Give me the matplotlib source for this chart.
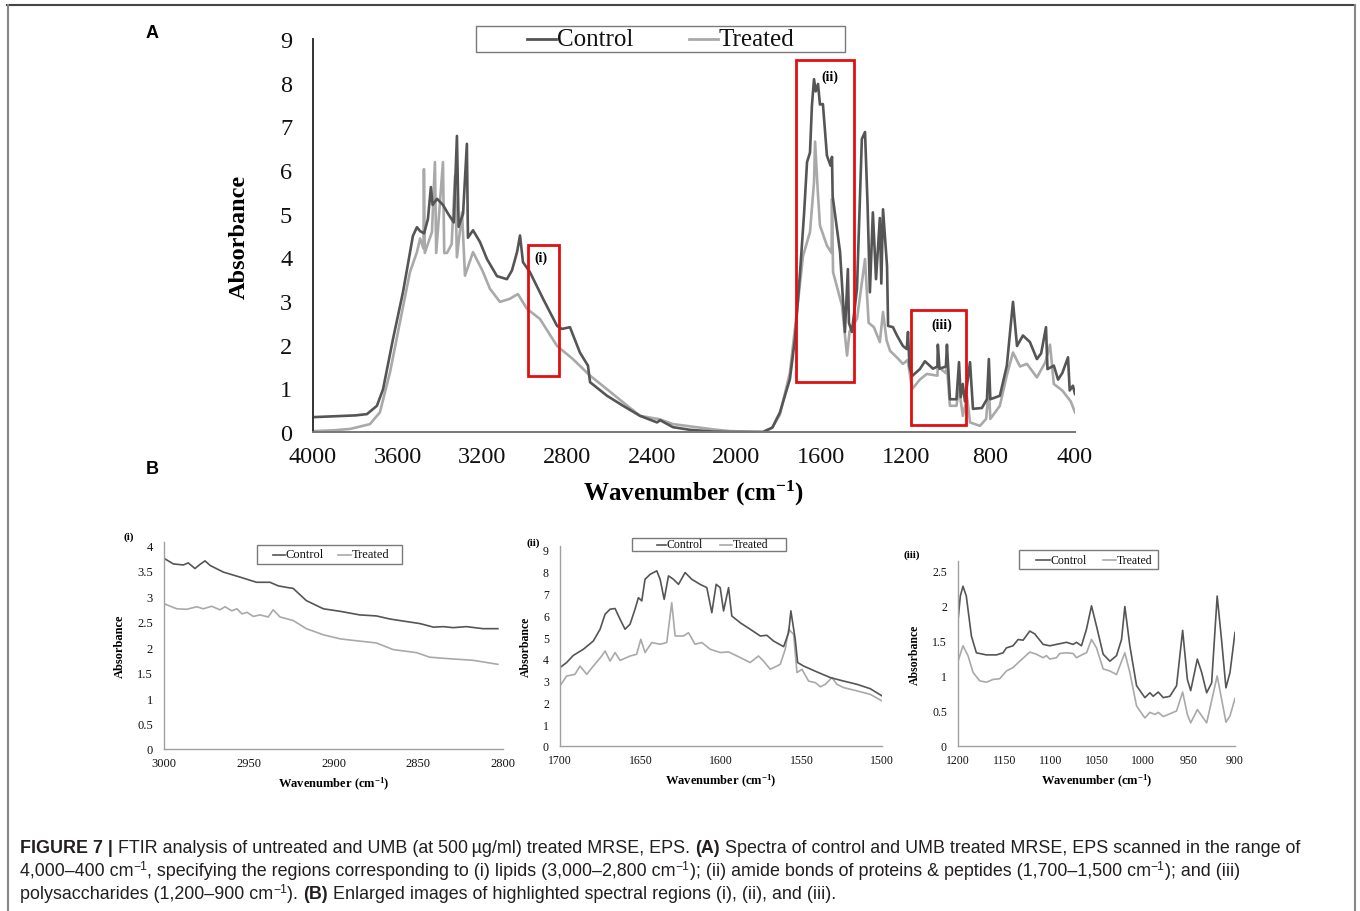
import matplotlib
matplotlib.use("Agg")
import matplotlib.pyplot as plt
from matplotlib.patches import Rectangle
from matplotlib.lines import Line2D
from matplotlib.ticker import FuncFormatter, MultipleLocator
from matplotlib import font_manager

W, H = 1360, 912
plt.rcParams['font.family'] = ['Liberation Serif', 'DejaVu Serif']
plt.rcParams['mathtext.fontset'] = 'custom'
plt.rcParams['mathtext.rm'] = 'Liberation Serif'
plt.rcParams['mathtext.bf'] = 'Liberation Serif:bold'
plt.rcParams['mathtext.it'] = 'Liberation Serif:italic'

CTRL = '#555555'
TRT = '#a9a9a9'
RED = '#e01010'

# ---------------- Panel A : full spectra ----------------
a_ctrl_x = [4000, 3900, 3800, 3745, 3698, 3669, 3622, 3575, 3528, 3509, 3494, 3475, 3457, 3443,
            3435, 3414, 3386, 3362, 3335, 3320, 3312, 3291, 3273, 3268, 3244, 3211, 3178, 3131,
            3084, 3060, 3036, 3022, 3008, 2975, 2913, 2847, 2824, 2786, 2739, 2701, 2691, 2611,
            2535, 2455, 2375, 2360, 2299, 2219, 2110, 2030, 1874, 1830, 1794, 1747, 1723, 1699,
            1680, 1666, 1652, 1643, 1633, 1625, 1614, 1605, 1591, 1572, 1555, 1548, 1545, 1510,
            1487, 1473, 1468, 1454, 1430, 1407, 1392, 1380, 1369, 1355, 1340, 1322, 1315, 1307,
            1288, 1283, 1260, 1241, 1213, 1195, 1189, 1182, 1170, 1133, 1109, 1071, 1050, 1048,
            1040, 1010, 1005, 991, 960, 948, 940, 930, 920, 896, 882, 840, 816, 807, 800, 755,
            722, 693, 674, 646, 613, 580, 560, 537, 530, 500, 480, 460, 433, 425, 410, 400]
a_ctrl_y = [0.34, 0.36, 0.38, 0.41, 0.60, 0.98, 2.13, 3.20, 4.49, 4.69, 4.60, 4.55, 4.88, 5.61,
            5.20, 5.34, 5.20, 5.00, 4.80, 6.78, 4.70, 5.00, 6.60, 4.45, 4.62, 4.35, 3.96, 3.57,
            3.50, 3.70, 4.12, 4.50, 3.89, 3.66, 3.05, 2.43, 2.36, 2.40, 1.82, 1.52, 1.14, 0.83,
            0.60, 0.37, 0.22, 0.27, 0.11, 0.05, 0.01, 0.00, 0.00, 0.10, 0.45, 1.21, 2.13, 3.66,
            5.00, 6.18, 6.40, 7.47, 8.08, 7.80, 7.97, 7.50, 7.51, 6.33, 6.10, 6.30, 5.40, 4.12,
            2.29, 3.73, 2.50, 2.29, 3.28, 6.71, 6.87, 5.20, 3.20, 5.03, 3.50, 4.90, 3.40, 5.10,
            3.80, 2.43, 2.40, 2.21, 1.97, 1.90, 2.29, 1.50, 1.28, 1.44, 1.62, 1.45, 1.50, 2.00,
            1.45, 1.50, 2.00, 0.75, 0.75, 1.60, 0.80, 1.10, 0.70, 1.60, 0.53, 0.55, 0.75, 1.67,
            0.75, 0.83, 1.52, 2.98, 1.97, 2.21, 2.06, 1.67, 1.80, 2.40, 1.44, 1.52, 1.20, 1.35,
            1.71, 0.95, 1.06, 0.87]

a_trt_x = [4000, 3900, 3825, 3731, 3684, 3636, 3589, 3542, 3509, 3494, 3478, 3476, 3472, 3438,
           3424, 3418, 3386, 3380, 3367, 3345, 3329, 3320, 3296, 3282, 3244, 3200, 3164, 3117,
           3070, 3032, 2989, 2928, 2847, 2772, 2691, 2611, 2535, 2455, 2361, 2299, 2219, 2110,
           2030, 1874, 1830, 1794, 1747, 1714, 1685, 1652, 1633, 1628, 1615, 1605, 1572, 1550,
           1548, 1543, 1501, 1477, 1465, 1430, 1392, 1375, 1350, 1322, 1307, 1290, 1274, 1240,
           1213, 1190, 1170, 1133, 1100, 1050, 1048, 1010, 1005, 991, 960, 948, 930, 910, 896,
           849, 820, 807, 800, 755, 722, 693, 660, 627, 580, 540, 518, 500, 460, 420, 400]
a_trt_y = [0.02, 0.04, 0.07, 0.18, 0.45, 1.37, 2.52, 3.66, 4.12, 4.43, 4.20, 6.02, 4.10, 4.58,
           6.18, 4.10, 6.18, 4.10, 4.10, 4.30, 5.87, 4.00, 5.03, 3.58, 4.12, 3.70, 3.28, 2.98,
           3.05, 3.16, 2.82, 2.59, 1.97, 1.67, 1.29, 0.98, 0.68, 0.37, 0.29, 0.18, 0.13, 0.06,
           0.02, 0.00, 0.10, 0.40, 1.36, 2.75, 4.03, 4.58, 5.72, 6.65, 5.50, 4.73, 4.27, 4.10,
           5.34, 3.66, 2.90, 1.75, 2.30, 2.59, 3.96, 2.50, 2.40, 2.06, 2.75, 2.10, 1.86, 1.70,
           1.56, 1.65, 0.98, 1.20, 1.33, 1.29, 1.50, 1.35, 1.50, 0.60, 0.60, 1.00, 0.37, 0.80,
           0.22, 0.14, 0.30, 1.00, 0.30, 0.60, 1.30, 1.82, 1.50, 1.56, 1.25, 1.60, 2.00, 1.10,
           0.95, 0.70, 0.45]

a_xticks = [4000, 3600, 3200, 2800, 2400, 2000, 1600, 1200, 800, 400]
a_yticks = [0, 1, 2, 3, 4, 5, 6, 7, 8, 9]

# highlighted regions (wavenumber range, absorbance range) and their labels
region_x = [(2984, 2838), (1718, 1444), (1175, 915)]
region_y = [(1.28, 4.28), (1.14, 8.52), (0.16, 2.79)]
region_labels = ['(i)', '(ii)', '(iii)']
region_label_xy = [(2923, 4.0), (1558, 8.15), (1029, 2.47)]

# ---------------- Panel B (i) lipids ----------------
b1_ctrl_x = [3000, 2994.5, 2988.6, 2985.7, 2981.7, 2978.8, 2975.8, 2972.8, 2965, 2955, 2945.4,
             2937.5, 2932.6, 2927.7, 2923.8, 2916, 2906, 2896, 2884.5, 2874.7, 2866.8, 2857,
             2849, 2841, 2835, 2829.5, 2821.6, 2811.8, 2803]
b1_ctrl_y = [3.74, 3.63, 3.61, 3.65, 3.54, 3.62, 3.69, 3.60, 3.47, 3.37, 3.27, 3.27, 3.20, 3.17,
             3.15, 2.91, 2.75, 2.70, 2.63, 2.61, 2.55, 2.50, 2.46, 2.39, 2.40, 2.38, 2.40, 2.36,
             2.36]
b1_trt_x = [3000, 2992.5, 2986.6, 2980.7, 2976.8, 2971.9, 2967, 2964, 2960, 2957, 2954, 2951,
            2947.3, 2943.4, 2938.5, 2935.6, 2931.6, 2923.8, 2916, 2906, 2896, 2888.4, 2874.7,
            2864.8, 2851, 2843.2, 2831.4, 2817.7, 2803]
b1_trt_y = [2.85, 2.75, 2.74, 2.79, 2.75, 2.80, 2.73, 2.79, 2.71, 2.75, 2.65, 2.68, 2.60, 2.63,
            2.59, 2.73, 2.59, 2.52, 2.36, 2.24, 2.16, 2.13, 2.08, 1.95, 1.89, 1.80, 1.77, 1.74,
            1.66]

# ---------------- Panel B (ii) amide ----------------
b2_ctrl_x = [1700, 1695.9, 1691.7, 1685.5, 1679.3, 1675.1, 1672, 1668.9, 1665.8, 1662.7, 1659.6,
             1656.5, 1653.4, 1651.3, 1649.2, 1647.2, 1644, 1639.9, 1637.8, 1635.3, 1632.6, 1629.5,
             1626.4, 1622.3, 1618.1, 1613, 1608.8, 1605.7, 1603, 1600.5, 1598.4, 1595.3, 1593.3,
             1588.1, 1581.9, 1575.6, 1571.5, 1567.4, 1561.1, 1558, 1556.6, 1553.9, 1552.4,
             1548.7, 1540.4, 1532.1, 1523.8, 1515.5, 1507.3, 1500]
b2_ctrl_y = [3.60, 3.83, 4.16, 4.44, 4.82, 5.36, 6.05, 6.28, 6.31, 5.82, 5.36, 5.59, 6.28, 6.81,
             6.66, 7.65, 7.88, 8.04, 7.65, 6.73, 7.81, 7.65, 7.42, 7.96, 7.65, 7.42, 7.27, 6.12,
             7.42, 7.27, 6.20, 7.27, 5.97, 5.66, 5.36, 5.05, 5.08, 4.82, 4.56, 5.20, 6.20, 4.90,
             3.83, 3.67, 3.40, 3.14, 2.98, 2.83, 2.63, 2.30]
b2_trt_x = [1700, 1695.9, 1690.7, 1687.6, 1683.4, 1679.3, 1674.1, 1672, 1668.9, 1665.8, 1662.7,
            1656.5, 1652.4, 1649.8, 1647.2, 1643, 1637.8, 1633.7, 1630.6, 1628.5, 1623.3, 1620.2,
            1616.1, 1611.9, 1606.7, 1600.5, 1595.3, 1588.1, 1581.9, 1576.7, 1573.6, 1569.4,
            1563.2, 1560.1, 1558, 1554.9, 1552.8, 1549.7, 1545.6, 1541.4, 1538.3, 1535.2, 1531.1,
            1528, 1523.8, 1515.5, 1507.3, 1500]
b2_trt_y = [2.76, 3.21, 3.29, 3.67, 3.29, 3.67, 4.13, 4.36, 3.90, 4.29, 3.93, 4.13, 4.21, 4.90,
            4.29, 4.75, 4.67, 4.75, 6.58, 5.05, 5.05, 5.20, 4.67, 4.75, 4.44, 4.29, 4.32, 4.06,
            3.83, 4.13, 3.90, 3.52, 3.75, 4.44, 5.36, 5.13, 3.37, 3.52, 2.98, 2.91, 2.72, 2.83,
            3.14, 2.83, 2.68, 2.53, 2.37, 2.07]

# ---------------- Panel B (iii) polysaccharides ----------------
b3_ctrl_x = [1200, 1197.5, 1194.6, 1191, 1185.5, 1180.1, 1169.3, 1158.4, 1151.2, 1147.6, 1140.4,
             1134.9, 1129.5, 1122.3, 1116.9, 1107.8, 1100.6, 1093.4, 1082.5, 1075.3, 1071.7,
             1066.3, 1060.8, 1055.4, 1050, 1042.8, 1035.5, 1028.3, 1022.9, 1019.3, 1013.9,
             1006.6, 997.6, 992.2, 988.6, 983.1, 977.7, 970.5, 963.3, 956.7, 951.6, 948, 940.8,
             936.1, 930.7, 925.3, 919.3, 914.6, 909.8, 905.4, 900]
b3_ctrl_y = [1.79, 2.14, 2.28, 2.14, 1.57, 1.33, 1.30, 1.30, 1.33, 1.40, 1.43, 1.52, 1.51, 1.64,
             1.60, 1.45, 1.43, 1.45, 1.48, 1.45, 1.48, 1.43, 1.67, 2.00, 1.71, 1.31, 1.21, 1.29,
             1.52, 1.99, 1.43, 0.86, 0.69, 0.76, 0.71, 0.77, 0.69, 0.71, 0.86, 1.65, 0.95, 0.79,
             1.24, 1.05, 0.76, 0.90, 2.14, 1.52, 0.83, 1.05, 1.62]
b3_trt_x = [1200, 1194.6, 1189.2, 1183.7, 1176.5, 1169.3, 1162, 1154.8, 1147.6, 1140.4, 1133.1,
            1122.3, 1115.1, 1107.8, 1104.2, 1100.6, 1093.4, 1089.8, 1082.5, 1075.3, 1071.7,
            1064.5, 1060.8, 1055.4, 1050, 1042.8, 1035.5, 1028.3, 1019.3, 1013.9, 1006.6, 997.6,
            992.2, 986.7, 983.1, 977.7, 963.3, 956.7, 951.6, 948, 940.8, 930.7, 919.3, 909.8,
            905.4, 900]
b3_trt_y = [1.21, 1.43, 1.29, 1.05, 0.93, 0.91, 0.95, 0.96, 1.07, 1.12, 1.21, 1.34, 1.31, 1.26,
            1.29, 1.24, 1.26, 1.32, 1.33, 1.32, 1.26, 1.31, 1.33, 1.52, 1.40, 1.10, 1.07, 1.02,
            1.33, 1.05, 0.57, 0.40, 0.48, 0.45, 0.48, 0.42, 0.50, 0.77, 0.45, 0.33, 0.52, 0.33,
            1.00, 0.34, 0.43, 0.68]

series_labels = ['Control', 'Treated']

# ---------------------------------------------------------------
fig = plt.figure(figsize=(13.6, 9.12), dpi=100)
fig.patch.set_facecolor('white')


def fx(x):
    return x / W


def fy(y):
    return 1 - y / H


def add_axes_px(left, top, right, bottom):
    return fig.add_axes([fx(left), fy(bottom), (right - left) / W, (bottom - top) / H])


fmt = FuncFormatter(lambda v, p: f"{v:g}")


def style_axes(ax, fs, xpad, ypad, left_c, bottom_c, spine_lw):
    for s in ['top', 'right']:
        ax.spines[s].set_visible(False)
    ax.spines['left'].set_color(left_c)
    ax.spines['bottom'].set_color(bottom_c)
    ax.spines['left'].set_linewidth(spine_lw)
    ax.spines['bottom'].set_linewidth(spine_lw)
    ax.tick_params(axis='x', length=0, labelsize=fs, pad=xpad, colors='#111111')
    ax.tick_params(axis='y', length=0, labelsize=fs, pad=ypad, colors='#111111')
    ax.yaxis.set_major_formatter(fmt)
    ax.xaxis.set_major_formatter(fmt)
    ax.patch.set_alpha(0)


def draw_legend(box, items, fs, lw):
    x0, y0, x1, y1 = box
    fig.add_artist(Rectangle((fx(x0), fy(y1)), (x1 - x0) / W, (y1 - y0) / H,
                             transform=fig.transFigure, fill=False,
                             edgecolor='#7a7a7a', linewidth=1.0))
    yc = (y0 + y1) / 2
    for label, color, lx0, lx1 in items:
        fig.add_artist(Line2D([fx(lx0), fx(lx1)], [fy(yc), fy(yc)],
                              transform=fig.transFigure, color=color, linewidth=lw))
        fig.text(fx(lx1 + 0.5), fy(yc), label, fontsize=fs, ha='left', va='center',
                 color='#111111')


# ---------------- Panel A ----------------
axA = add_axes_px(313, 40, 1075, 433)
axA.plot(a_trt_x, a_trt_y, color=TRT, lw=1.9, solid_joinstyle='round')
axA.plot(a_ctrl_x, a_ctrl_y, color=CTRL, lw=1.9, solid_joinstyle='round')
axA.set_xlim(4000, 400)
axA.set_ylim(0, 9)
axA.set_xticks(a_xticks)
axA.set_yticks(a_yticks)
style_axes(axA, 17.5, 10, 15, '#333333', '#777777', 1.4)
axA.set_xlabel('Wavenumber (cm$^{\\mathbf{-1}}$)', fontsize=18, fontweight='bold', labelpad=8)
axA.set_ylabel('Absorbance', fontsize=17.5, fontweight='bold', labelpad=22)
for (xa, xb), (ya, yb) in zip(region_x, region_y):
    axA.add_patch(Rectangle((min(xa, xb), ya), abs(xa - xb), yb - ya, fill=False,
                            edgecolor=RED, linewidth=2.0, clip_on=False, zorder=5))
for lab, (lx, ly) in zip(region_labels, region_label_xy):
    axA.text(lx, ly, lab, fontsize=10, fontweight='bold', ha='center', va='center', zorder=6)

draw_legend((476, 27, 845, 53), [(series_labels[0], CTRL, 527, 556),
                                 (series_labels[1], TRT, 689, 718)], 18, 2.0)

# ---------------- Panel B (i) ----------------
ax1 = add_axes_px(164, 543, 503, 750)
ax1.plot(b1_trt_x, b1_trt_y, color=TRT, lw=1.2)
ax1.plot(b1_ctrl_x, b1_ctrl_y, color=CTRL, lw=1.2)
ax1.set_xlim(3000, 2800)
ax1.set_ylim(0, 4.06)
ax1.xaxis.set_major_locator(MultipleLocator(50))
ax1.yaxis.set_major_locator(MultipleLocator(0.5))
style_axes(ax1, 9, 6, 8, '#a0a0a0', '#a0a0a0', 1.0)
ax1.set_xlabel('Wavenumber (cm$^{\\mathbf{-1}}$)', fontsize=9, fontweight='bold', labelpad=4)
ax1.set_ylabel('Absorbance', fontsize=9, fontweight='bold', labelpad=8)
draw_legend((257, 546, 402, 565), [(series_labels[0], CTRL, 273, 285),
                                   (series_labels[1], TRT, 338, 351)], 9, 1.2)

# ---------------- Panel B (ii) ----------------
ax2 = add_axes_px(560, 547, 882, 747)
ax2.plot(b2_trt_x, b2_trt_y, color=TRT, lw=1.2)
ax2.plot(b2_ctrl_x, b2_ctrl_y, color=CTRL, lw=1.2)
ax2.set_xlim(1700, 1500)
ax2.set_ylim(0, 9.18)
ax2.xaxis.set_major_locator(MultipleLocator(50))
ax2.yaxis.set_major_locator(MultipleLocator(1))
style_axes(ax2, 8.5, 6, 8, '#a0a0a0', '#a0a0a0', 1.0)
ax2.set_xlabel('Wavenumber (cm$^{\\mathbf{-1}}$)', fontsize=9, fontweight='bold', labelpad=4)
ax2.set_ylabel('Absorbance', fontsize=8.5, fontweight='bold', labelpad=8)
draw_legend((632, 539, 786, 552), [(series_labels[0], CTRL, 657, 666),
                                   (series_labels[1], TRT, 720, 732)], 8.5, 1.2)

# ---------------- Panel B (iii) ----------------
ax3 = add_axes_px(958, 562, 1235, 747)
ax3.plot(b3_trt_x, b3_trt_y, color=TRT, lw=1.2)
ax3.plot(b3_ctrl_x, b3_ctrl_y, color=CTRL, lw=1.2)
ax3.set_xlim(1200, 900)
ax3.set_ylim(0, 2.64)
ax3.xaxis.set_major_locator(MultipleLocator(50))
ax3.yaxis.set_major_locator(MultipleLocator(0.5))
style_axes(ax3, 8.5, 6, 8, '#a0a0a0', '#a0a0a0', 1.0)
ax3.set_xlabel('Wavenumber (cm$^{\\mathbf{-1}}$)', fontsize=9, fontweight='bold', labelpad=4)
ax3.set_ylabel('Absorbance', fontsize=8.5, fontweight='bold', labelpad=8)
draw_legend((1019, 551, 1158, 570), [(series_labels[0], CTRL, 1036, 1050),
                                     (series_labels[1], TRT, 1103, 1116)], 8.5, 1.2)

# panel sub labels
fig.text(fx(129), fy(537), '(i)', fontsize=8, fontweight='bold', ha='center', va='center')
fig.text(fx(533), fy(543), '(ii)', fontsize=8, fontweight='bold', ha='center', va='center')
fig.text(fx(912), fy(555), '(iii)', fontsize=8, fontweight='bold', ha='center', va='center')

SANS = ['Liberation Sans', 'DejaVu Sans']
fig.text(fx(152), fy(33), 'A', fontsize=13, fontweight='bold', family=SANS, ha='center', va='center')
fig.text(fx(152), fy(470), 'B', fontsize=13, fontweight='bold', family=SANS, ha='center', va='center')

# ---------------- frame ----------------
fig.add_artist(Line2D([fx(7), fx(1355)], [fy(6), fy(6)], transform=fig.transFigure,
                      color='#444444', lw=1.5))
fig.add_artist(Line2D([fx(7.5), fx(7.5)], [fy(6), fy(912)], transform=fig.transFigure,
                      color='#888888', lw=1.5))
fig.add_artist(Line2D([fx(1355), fx(1355)], [fy(6), fy(912)], transform=fig.transFigure,
                      color='#888888', lw=1.5))

# ---------------- caption ----------------
names = {f.name for f in font_manager.fontManager.ttflist}
narrow = 'Liberation Sans Narrow' in names
CAP = ['Liberation Sans Narrow', 'Liberation Sans'] if narrow else ['Liberation Sans']
renderer = fig.canvas.get_renderer()


def text_width(s, fs, weight):
    t1 = fig.text(0, 0, 'x' + s + 'x', fontsize=fs, fontweight=weight, family=CAP)
    t2 = fig.text(0, 0, 'xx', fontsize=fs, fontweight=weight, family=CAP)
    w = t1.get_window_extent(renderer).width - t2.get_window_extent(renderer).width
    t1.remove()
    t2.remove()
    return w


def runs(x, y, parts, fs):
    for txt, bold, sup in parts:
        size = fs * 0.68 if sup else fs
        weight = 'bold' if bold else 'normal'
        yy = y - 6 if sup else y
        fig.text(fx(x), fy(yy), txt, fontsize=size, fontweight=weight, family=CAP,
                 ha='left', va='baseline', color='#231f20')
        x += text_width(txt, size, weight)


CFS = 14.5 if narrow else 12.9
runs(20, 853, [('FIGURE 7 |', True, False),
               (' FTIR analysis of untreated and UMB (at 500\u2009\u00b5g/ml) treated MRSE, EPS. ', False, False),
               ('(A)', True, False),
               (' Spectra of control and UMB treated MRSE, EPS scanned in the range of', False, False)], CFS)
runs(20, 876, [('4,000\u2013400 cm', False, False), ('\u22121', False, True),
               (', specifying the regions corresponding to (i) lipids (3,000\u20132,800 cm', False, False),
               ('\u22121', False, True),
               ('); (ii) amide bonds of proteins & peptides (1,700\u20131,500 cm', False, False),
               ('\u22121', False, True), ('); and (iii)', False, False)], CFS)
runs(20, 899, [('polysaccharides (1,200\u2013900 cm', False, False), ('\u22121', False, True),
               ('). ', False, False), ('(B)', True, False),
               (' Enlarged images of highlighted spectral regions (i), (ii), and (iii).', False, False)], CFS)

fig.savefig('out.png', dpi=100)
